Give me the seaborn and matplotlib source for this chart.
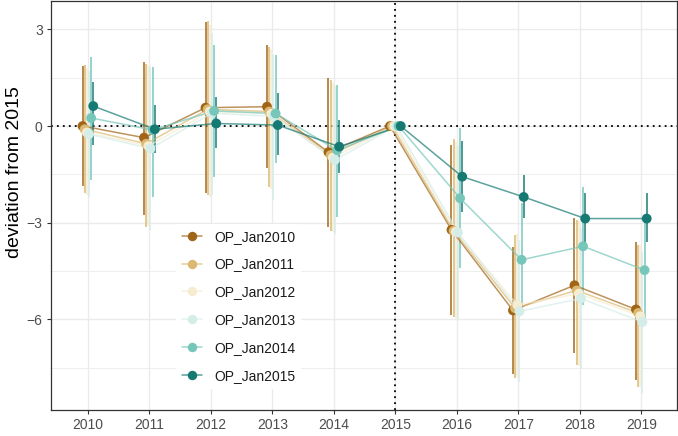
import matplotlib
matplotlib.use("Agg")
import matplotlib.pyplot as plt
from matplotlib.lines import Line2D
from matplotlib.ticker import MultipleLocator
import numpy as np
import pandas as pd
import seaborn as sns

# ---- data -------------------------------------------------------------
years = [2010, 2011, 2012, 2013, 2014, 2015, 2016, 2017, 2018, 2019]
series = ["OP_Jan2010", "OP_Jan2011", "OP_Jan2012",
          "OP_Jan2013", "OP_Jan2014", "OP_Jan2015"]

op_jan2010 = [0.00, -0.36, 0.57, 0.60, -0.81, 0.0, -3.22, -5.72, -4.94, -5.69]
op_jan2010_lo = [-1.86, -2.76, -2.08, -1.30, -3.13, 0.0, -5.87, -7.68, -7.05, -7.89]
op_jan2010_hi = [1.86, 2.00, 3.24, 2.52, 1.49, 0.0, -0.59, -3.75, -2.86, -3.59]

op_jan2011 = [-0.10, -0.55, 0.52, 0.45, -0.90, 0.0, -3.25, -5.65, -5.10, -5.80]
op_jan2011_lo = [-2.08, -3.13, -2.13, -1.90, -3.27, 0.0, -5.92, -7.82, -7.42, -8.09]
op_jan2011_hi = [1.89, 1.93, 3.27, 2.46, 1.43, 0.0, -0.40, -3.38, -2.92, -3.69]

op_jan2012 = [-0.20, -0.62, 0.45, 0.38, -0.98, 0.0, -3.28, -5.55, -5.20, -5.90]
op_jan2012_lo = [-2.15, -3.10, -2.20, -1.95, -3.30, 0.0, -6.00, -7.80, -7.45, -8.10]
op_jan2012_hi = [1.80, 1.90, 3.15, 2.40, 1.35, 0.0, -0.50, -3.35, -2.95, -3.70]

op_jan2013 = [-0.25, -0.70, 0.40, 0.30, -1.05, 0.0, -3.30, -5.75, -5.35, -6.08]
op_jan2013_lo = [-2.20, -3.23, -2.15, -2.30, -3.35, 0.0, -6.00, -7.95, -7.55, -8.29]
op_jan2013_hi = [1.70, 1.83, 2.90, 2.20, 1.25, 0.0, -0.60, -3.55, -3.15, -3.90]

op_jan2014 = [0.25, -0.12, 0.47, 0.39, -0.75, 0.0, -2.24, -4.15, -3.73, -4.47]
op_jan2014_lo = [-1.68, -2.20, -1.57, -1.15, -2.82, 0.0, -4.41, -5.87, -5.56, -6.10]
op_jan2014_hi = [2.14, 1.83, 2.52, 2.20, 1.27, 0.0, -0.06, -2.39, -1.88, -2.90]

op_jan2015 = [0.62, -0.10, 0.08, 0.03, -0.64, 0.0, -1.57, -2.20, -2.87, -2.87]
op_jan2015_lo = [-0.60, -0.84, -0.68, -0.90, -1.46, 0.0, -2.66, -2.86, -3.85, -3.60]
op_jan2015_hi = [1.37, 0.65, 0.90, 1.02, 0.19, 0.0, -0.46, -1.52, -2.08, -2.08]

values = [op_jan2010, op_jan2011, op_jan2012, op_jan2013, op_jan2014, op_jan2015]
lows = [op_jan2010_lo, op_jan2011_lo, op_jan2012_lo,
        op_jan2013_lo, op_jan2014_lo, op_jan2015_lo]
highs = [op_jan2010_hi, op_jan2011_hi, op_jan2012_hi,
         op_jan2013_hi, op_jan2014_hi, op_jan2015_hi]

# ---- long table with dodged x positions ---------------------------------
dodge_step = 0.035
rows = []
for i, name in enumerate(series):
    off = (i - (len(series) - 1) / 2) * dodge_step
    for j, yr in enumerate(years):
        rows.append({"series": name, "year": yr, "x": yr + off,
                     "value": values[i][j], "lo": lows[i][j], "hi": highs[i][j]})
df = pd.DataFrame(rows)

pal = sns.color_palette("BrBG", len(series))
colors = dict(zip(series, pal))

# ---- figure -------------------------------------------------------------
sns.set_style("white")
plt.rcParams["font.family"] = ["Liberation Sans", "DejaVu Sans"]

W, H = 678, 436
fig = plt.figure(figsize=(W / 100, H / 100), dpi=100)
ax = fig.add_axes([51 / W, 1 - 410 / H, (677 - 51) / W, (410 - 1) / H])

grid_c = "#EBEBEB"
ax.set_axisbelow(True)
ax.yaxis.set_major_locator(MultipleLocator(3))
ax.yaxis.set_minor_locator(MultipleLocator(1.5))
ax.set_xticks(years)
ax.grid(which="major", color=grid_c, lw=1.0)
ax.grid(which="minor", axis="y", color=grid_c, lw=0.6)

# reference lines
dot = (0, (1, 2.3))
ax.axhline(0, color="black", lw=1.3, ls=dot, zorder=1)
ax.axvline(2015, color="black", lw=1.3, ls=dot, zorder=1)

# error bars
for name in series:
    sub = df[df["series"] == name]
    sub = sub[sub["hi"] > sub["lo"]]
    ax.vlines(sub["x"], sub["lo"], sub["hi"], colors=[colors[name]],
              lw=1.2, alpha=0.9, zorder=2)

# connecting lines and points
sns.lineplot(data=df, x="x", y="value", hue="series", hue_order=series,
             palette=pal, estimator=None, sort=True, lw=1.1, alpha=0.7,
             legend=False, ax=ax, zorder=3)
sns.scatterplot(data=df, x="x", y="value", hue="series", hue_order=series,
                palette=pal, s=50, linewidth=0, legend=False, ax=ax, zorder=4)

ax.set_xlim(2009.40, 2019.58)
ax.set_ylim(-8.81, 3.88)

for sp in ax.spines.values():
    sp.set_color("#333333")
    sp.set_linewidth(0.9)

ax.tick_params(axis="both", which="major", length=3, width=0.8,
               color="#333333", labelcolor="#4D4D4D", labelsize=10, pad=3,
               left=True, bottom=True)
ax.tick_params(axis="y", which="minor", length=0)
ax.set_xlabel("")
ax.set_ylabel("deviation from 2015", fontsize=14, color="black")
ax.yaxis.set_label_coords(23 / W, 1 - 172 / H, transform=fig.transFigure)

# legend
handles = []
for name in series:
    c = colors[name]
    handles.append(Line2D([0], [0], color=(*c, 0.7), lw=1.1, marker="o",
                          markersize=6.8, markerfacecolor=c,
                          markeredgecolor=c, markeredgewidth=0))
leg = ax.legend(handles, series, loc="upper left",
                bbox_to_anchor=(176 / W, 1 - 224 / H),
                bbox_transform=fig.transFigure, fontsize=10, frameon=True,
                facecolor="white", edgecolor="none", framealpha=1,
                handlelength=1.5, handletextpad=0.85, labelspacing=1.0,
                borderaxespad=0, borderpad=0.4)
for t in leg.get_texts():
    t.set_color("#1A1A1A")

fig.savefig("out.png", dpi=100)
